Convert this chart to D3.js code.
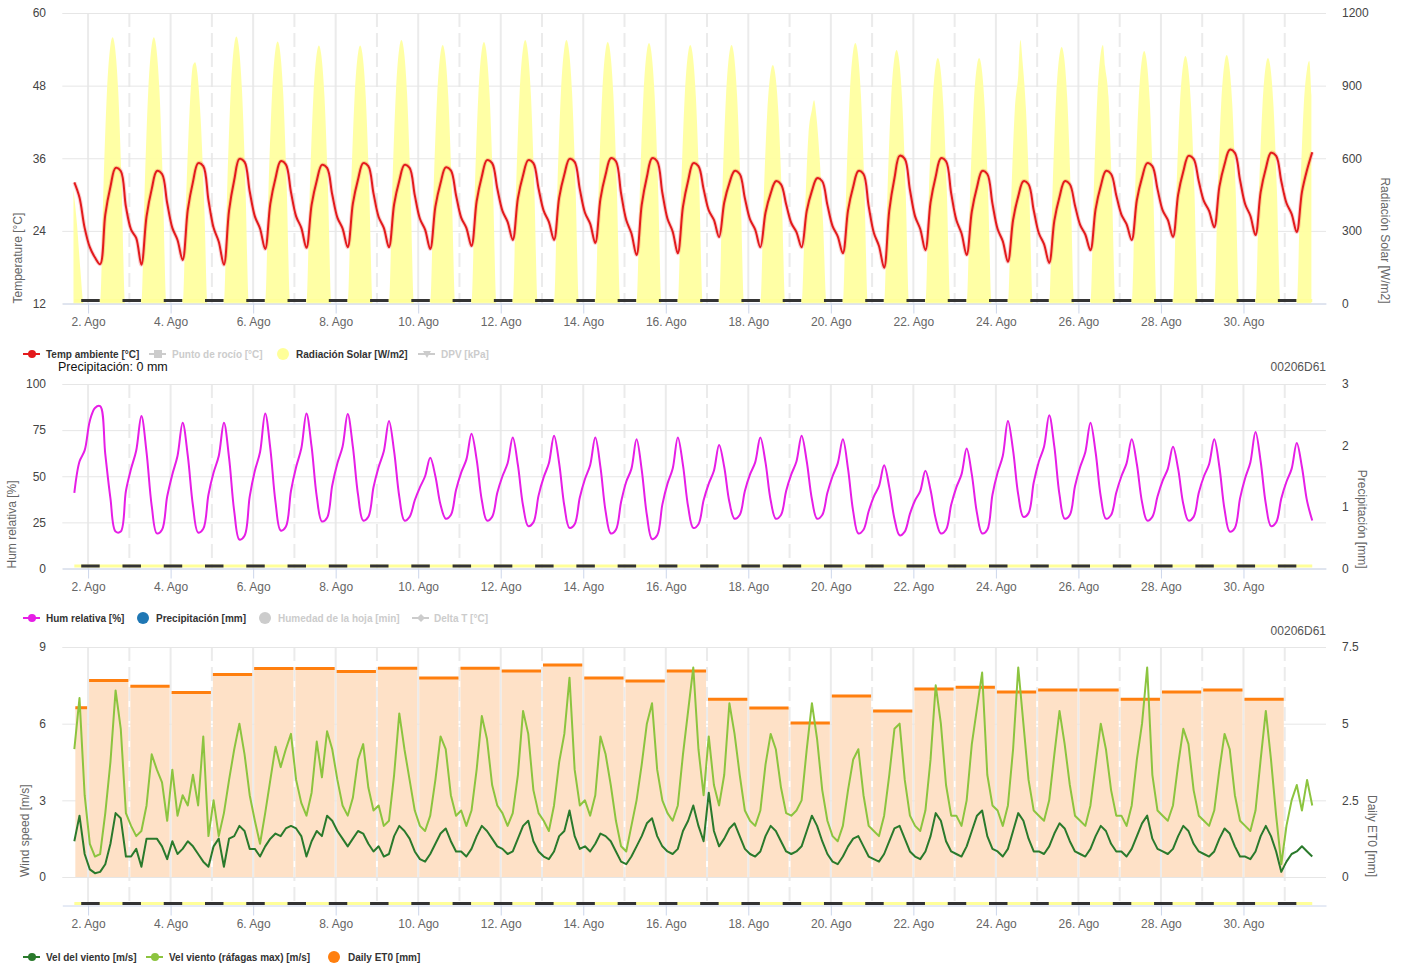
<!DOCTYPE html>
<html>
<head>
<meta charset="utf-8">
<title>Estación 00206D61 - Agosto</title>
<script src="https://cdn.jsdelivr.net/npm/d3@7"></script>
<style>
  body { margin: 0; background: #fff; }
  svg text { font-family: "Liberation Sans", Arial, sans-serif; }
</style>
</head>
<body>
<svg id="chart" width="1403" height="966"></svg>
<script>
// ---------------- datos ----------------
// series cada 3 horas desde el 1 de agosto a las 16:00 hasta el 31 a las 16:00
var inicioSerie = Date.UTC(2023, 7, 1, 16);
var pasoHoras = 3;

var tempAmbiente = [
  32.0, 29.5, 24.5,
  21.3, 19.6, 18.5, 26.7, 31.3, 34.4, 33.9, 28.0,
  24.2, 22.8, 18.4, 26.4, 30.9, 33.9, 33.4, 28.6,
  24.5, 22.5, 19.2, 27.5, 32.1, 35.2, 34.7, 29.1,
  24.5, 22.2, 18.4, 27.4, 32.4, 35.9, 35.4, 30.5,
  26.4, 24.4, 21.0, 28.5, 32.7, 35.5, 35.0, 30.4,
  26.4, 24.5, 21.2, 28.3, 32.3, 34.9, 34.4, 30.0,
  26.2, 24.4, 21.3, 28.5, 32.5, 35.2, 34.7, 30.2,
  26.3, 24.5, 21.3, 28.4, 32.3, 34.9, 34.4, 29.9,
  26.0, 24.2, 21.0, 28.0, 31.9, 34.5, 34.0, 29.9,
  26.2, 24.5, 21.5, 28.9, 33.0, 35.7, 35.2, 31.0,
  27.3, 25.5, 22.5, 29.4, 33.2, 35.7, 35.2, 31.0,
  27.3, 25.5, 22.5, 29.5, 33.3, 35.9, 35.4, 30.9,
  27.0, 25.2, 22.0, 29.3, 33.3, 36.0, 35.5, 30.2,
  25.8, 23.6, 20.0, 28.3, 32.9, 36.0, 35.5, 30.3,
  26.0, 23.9, 20.3, 28.0, 32.3, 35.2, 34.7, 30.9,
  27.4, 25.8, 23.0, 28.7, 31.9, 33.9, 33.4, 29.4,
  25.9, 24.2, 21.3, 27.0, 30.2, 32.2, 31.7, 28.4,
  25.3, 23.8, 21.3, 27.3, 30.6, 32.7, 32.2, 28.3,
  24.8, 23.1, 20.3, 27.4, 31.3, 33.9, 33.4, 28.1,
  23.7, 21.5, 17.9, 27.4, 32.7, 36.4, 35.9, 30.8,
  26.4, 24.3, 20.8, 28.7, 33.0, 36.0, 35.5, 30.2,
  25.8, 23.6, 20.0, 27.2, 31.2, 33.9, 33.4, 28.5,
  24.3, 22.3, 18.9, 25.8, 29.7, 32.2, 31.7, 27.4,
  23.6, 21.8, 18.7, 25.7, 29.6, 32.2, 31.7, 28.2,
  25.0, 23.4, 20.8, 27.6, 31.4, 33.9, 33.4, 29.9,
  26.7, 25.1, 22.5, 29.1, 32.8, 35.2, 34.7, 30.9,
  27.4, 25.8, 23.0, 30.0, 33.8, 36.4, 35.9, 32.2,
  28.9, 27.3, 24.6, 31.3, 35.0, 37.4, 36.9, 32.4,
  28.4, 26.5, 23.3, 30.4, 34.3, 36.9, 36.4, 32.2,
  28.6, 26.8, 23.8, 30.4, 34.1, 37.0
];

var humRelativa = [
  41, 58, 64,
  80, 87, 88, 62, 38, 20, 20, 42,
  54, 64, 82.6, 63, 34, 19, 21, 39,
  51, 61, 79, 61, 34, 19.5, 21.5, 40,
  52, 61, 79, 60, 31, 15.7, 17.7, 39,
  53, 63, 84, 65, 36, 20.6, 22.6, 42,
  55, 65, 84, 66, 39, 25.5, 27.5, 45,
  57, 66, 83.7, 66, 40, 26, 28, 44,
  55, 63.5, 80, 63.5, 39, 26, 28, 37,
  44, 50, 60, 50, 34.5, 27, 29, 42.5,
  52, 59, 73, 59, 37, 26, 28, 41,
  50, 57, 71, 56, 34, 23, 25, 39.5,
  49.5, 57, 72, 57, 34, 22, 24, 38.5,
  48.5, 56, 71, 55, 31, 19, 21, 36,
  47, 54, 70, 53.5, 29, 16, 18, 34.6,
  46, 54, 71, 56, 33.5, 22, 24, 37,
  46, 53, 67, 55, 36, 27, 29, 42,
  51, 57.5, 71, 57.5, 37, 27, 29, 42,
  51, 58, 72, 58, 37.5, 27, 29, 41,
  50, 57, 70, 54, 31, 19, 21, 31,
  39, 44.6, 56, 44, 27, 18, 20, 29.6,
  37, 42, 53, 42.5, 27, 19, 21, 34.5,
  44, 51, 65, 51, 30, 19, 21, 40,
  52, 61, 80, 64, 40, 28, 30, 46.6,
  58, 66, 83, 66, 40, 27, 29, 44.6,
  55, 63, 79, 63, 39, 27, 29, 41,
  50, 57, 70, 56.5, 36, 26, 28, 39,
  47.6, 54, 66, 54, 35, 26, 28, 41,
  50, 56.5, 70, 55, 32, 20, 22, 38,
  49, 57.5, 74, 58, 35, 23, 25, 38,
  47, 54, 68, 55, 36.5, 26
];

var velViento = [
  1.4, 2.4, 0.9,
  0.3, 0.15, 0.2, 0.5, 1.3, 2.5, 2.3, 0.8,
  0.8, 1.1, 0.4, 1.5, 1.5, 1.5, 1.2, 0.7,
  1.4, 0.9, 1.1, 1.4, 1.2, 0.9, 0.6, 0.4,
  1.2, 1.5, 0.4, 1.5, 1.6, 2.0, 1.8, 1.1,
  1.1, 0.8, 1.2, 1.5, 1.7, 1.6, 1.9, 2.0,
  1.9, 1.6, 0.8, 1.4, 1.8, 1.6, 2.4, 2.2,
  1.8, 1.5, 1.2, 1.5, 1.8, 1.7, 1.3, 1.0,
  1.2, 0.8, 0.9, 1.6, 2.0, 1.8, 1.5, 1.0,
  0.7, 0.6, 0.9, 1.3, 1.7, 1.9, 1.4, 1.0,
  1.0, 0.8, 1.1, 1.6, 2.0, 1.8, 1.5, 1.2,
  1.1, 0.9, 1.0, 1.5, 2.0, 2.2, 1.4, 1.0,
  0.8, 0.7, 1.0, 1.6, 1.8, 2.6, 1.6, 1.1,
  1.2, 1.0, 1.3, 1.7, 1.6, 1.4, 1.0, 0.6,
  0.5, 0.8, 1.2, 1.6, 2.1, 2.3, 1.6, 1.2,
  1.0, 0.9, 1.1, 1.8, 2.2, 2.8, 2.0, 1.4,
  3.3, 1.8, 1.2, 1.5, 1.9, 2.1, 1.6, 1.1,
  0.9, 0.8, 1.0, 1.6, 2.0, 1.8, 1.4, 1.0,
  0.9, 1.0, 1.2, 1.8, 2.4, 2.0, 1.4, 0.9,
  0.6, 0.5, 0.8, 1.2, 1.5, 1.6, 1.2, 0.8,
  0.7, 0.6, 0.9, 1.4, 1.9, 2.0, 1.5, 1.0,
  0.8, 0.7, 1.0, 1.6, 2.5, 2.2, 1.4, 1.0,
  0.9, 0.8, 1.2, 1.8, 2.4, 2.6, 1.6, 1.1,
  1.0, 0.8, 1.1, 1.8, 2.5, 2.2, 1.5, 1.0,
  1.0, 0.9, 1.2, 1.7, 2.1, 1.9, 1.4, 1.0,
  0.9, 0.8, 1.1, 1.6, 2.0, 1.8, 1.3, 1.0,
  1.0, 0.8, 1.1, 1.6, 2.1, 2.4, 1.5, 1.1,
  1.0, 0.9, 1.1, 1.6, 2.0, 1.8, 1.3, 1.0,
  0.9, 0.8, 1.0, 1.5, 1.9, 1.7, 1.2, 0.8,
  0.8, 0.7, 1.0, 1.6, 2.0, 1.6, 1.0, 0.2,
  0.6, 0.9, 1.0, 1.2, 1.0, 0.8
];

var velRafagas = [
  5.0, 7.0, 3.2,
  1.3, 0.8, 0.9, 2.5, 4.5, 7.3, 5.8, 2.5,
  2.0, 1.6, 1.8, 2.8, 4.8, 4.2, 3.7, 2.2,
  4.2, 2.4, 3.2, 2.8, 4.0, 2.8, 5.5, 1.6,
  3.0, 1.6, 2.5, 3.8, 5.0, 6.0, 4.8, 3.2,
  2.2, 1.3, 2.5, 3.8, 5.1, 4.3, 5.0, 5.6,
  3.8, 2.9, 2.4, 3.3, 5.3, 3.9, 5.7, 5.0,
  3.8, 2.8, 2.4, 3.1, 4.6, 5.2, 3.5, 2.6,
  2.8, 2.0, 2.2, 4.0, 6.4, 5.0, 3.8, 2.6,
  2.0, 1.8, 2.4, 3.8, 5.5, 5.0, 3.2, 2.4,
  2.6, 2.0, 2.6, 4.2, 6.3, 5.4, 3.6, 2.8,
  2.5, 2.0, 2.5, 4.0, 6.5, 5.6, 3.4, 2.5,
  2.2, 1.8, 2.8, 4.5, 5.6, 7.8, 4.2, 2.8,
  3.0, 2.4, 3.2, 5.5, 4.8, 3.6, 2.2, 1.2,
  1.0, 2.0, 3.0, 4.4, 6.0, 6.8, 4.2, 3.0,
  2.5, 2.2, 2.8, 4.8, 6.5, 8.2, 5.0, 3.2,
  5.5, 3.6, 2.8, 4.0, 6.8, 5.6, 4.0, 2.6,
  2.2, 2.0, 2.6, 4.4, 5.6, 5.0, 3.5, 2.5,
  2.4, 2.6, 3.0, 5.0, 6.8, 5.4, 3.4, 2.2,
  1.6, 1.4, 2.0, 3.4, 4.6, 5.0, 3.2, 2.0,
  1.8, 1.6, 2.4, 4.0, 5.8, 6.0, 3.8, 2.4,
  2.0, 1.8, 2.6, 4.6, 7.5, 6.0, 3.6, 2.4,
  2.4, 2.0, 3.0, 5.2, 6.6, 8.0, 4.0, 2.8,
  2.6, 2.0, 2.8, 5.0, 8.2, 6.0, 3.8, 2.6,
  2.4, 2.2, 3.0, 4.8, 6.5, 5.2, 3.6, 2.4,
  2.2, 2.0, 2.8, 4.4, 6.0, 5.0, 3.4, 2.4,
  2.4, 2.0, 2.8, 4.6, 6.0, 8.2, 4.0, 2.6,
  2.4, 2.2, 2.8, 4.4, 5.8, 5.2, 3.4, 2.4,
  2.2, 2.0, 2.6, 4.2, 5.6, 5.0, 3.2, 2.2,
  2.0, 1.8, 2.6, 4.6, 6.5, 4.6, 2.4, 0.5,
  2.0, 3.0, 3.6, 2.6, 3.8, 2.8
];

// radiación solar por día (1..31) a estas horas locales
var horasSolar = [7, 9, 11, 13, 14.25, 15.5, 17.5, 19.5, 21.5];
var radSolar = [
  [null, null, null, null, null, 470, 330, 140, 0],
  [0, 495, 880, 1067, 1100, 1067, 880, 495, 0],
  [0, 495, 880, 1067, 1100, 1067, 880, 495, 0],
  [0, 430, 790, 985, 997, 955, 760, 420, 0],
  [0, 496, 882, 1070, 1103, 1070, 882, 496, 0],
  [0, 487, 866, 1050, 1082, 1050, 866, 487, 0],
  [0, 480, 853, 1034, 1066, 1034, 853, 480, 0],
  [0, 480, 853, 1034, 1066, 1034, 853, 480, 0],
  [0, 490, 870, 1055, 1088, 1055, 870, 490, 0],
  [0, 481, 854, 1036, 1068, 1036, 854, 481, 0],
  [0, 486, 864, 1048, 1080, 1048, 864, 486, 0],
  [0, 490, 870, 1055, 1088, 1055, 870, 490, 0],
  [0, 490, 870, 1055, 1088, 1055, 870, 490, 0],
  [0, 486, 864, 1048, 1080, 1048, 864, 486, 0],
  [0, 484, 861, 1044, 1076, 1044, 861, 484, 0],
  [0, 481, 854, 1036, 1068, 1036, 854, 481, 0],
  [0, 481, 854, 1036, 1068, 1036, 854, 481, 0],
  [0, 443, 788, 955, 985, 955, 788, 443, 0],
  [0, 380, 700, 800, 840, 780, 600, 330, 0],
  [0, 484, 861, 1044, 1076, 1044, 861, 484, 0],
  [0, 471, 838, 1016, 1047, 1016, 838, 471, 0],
  [0, 456, 811, 984, 1014, 984, 811, 456, 0],
  [0, 456, 811, 984, 1014, 984, 811, 456, 0],
  [0, 450, 800, 944, 1088, 1000, 800, 440, 0],
  [0, 477, 848, 1028, 1060, 1028, 848, 477, 0],
  [0, 481, 854, 1036, 1068, 980, 854, 481, 0],
  [0, 469, 834, 1012, 1043, 1012, 834, 469, 0],
  [0, 460, 818, 991, 1022, 991, 818, 460, 0],
  [0, 462, 821, 995, 1026, 995, 821, 462, 0],
  [0, 456, 811, 984, 1014, 984, 811, 456, 0],
  [0, 450, 810, 970, 1002, 860, null, null, null]
];

// ET0 diaria (1..30 de agosto)
var et0Diaria = [5.52, 6.41, 6.22, 6.02, 6.60, 6.80, 6.80, 6.70, 6.81, 6.49,
                 6.81, 6.72, 6.91, 6.49, 6.39, 6.72, 5.80, 5.51, 5.02, 5.90,
                 5.41, 6.13, 6.19, 6.03, 6.10, 6.10, 5.80, 6.03, 6.10, 5.80];

// horas de la franja nocturna (barra negra)
var nocheDesde = 20, nocheHasta = 6.75;

var diasEtiqueta = d3.range(2, 31, 2);
var diasMenores = d3.range(3, 32, 2);

// ---------------- escalas ----------------
var HORA = 3600e3;
function fecha(dia, hora) { return new Date(Date.UTC(2023, 7, dia) + (hora || 0) * HORA); }
function serie(vals) {
  return vals.map(function(v, i) { return {t: new Date(inicioSerie + i * pasoHoras * HORA), v: v}; });
}
var finSerie = new Date(inicioSerie + (tempAmbiente.length - 1) * pasoHoras * HORA);

var X0 = 62.3, X1 = 1326;
var x = d3.scaleUtc()
  .domain([new Date(Date.UTC(2023, 7, 1, 9)), new Date(Date.UTC(2023, 8, 1))])
  .range([X0, X1]);

var svg = d3.select('#chart');
var fmtFecha = d3.utcFormat('%-d. Ago');
var fmtNum = function(d) { return String(d); };

// cada panel: escala izquierda y derecha, rejilla, eje x y barra día/noche
function panel(cfg) {
  var yL = d3.scaleLinear().domain(cfg.izq).range([cfg.abajo, cfg.arriba]);
  var yR = d3.scaleLinear().domain(cfg.der).range([cfg.abajo, cfg.arriba]);
  var g = svg.append('g');

  // rejilla vertical: sólida en días pares, discontinua en impares
  g.append('g').selectAll('line').data(diasEtiqueta).enter().append('line')
    .attr('x1', d => x(fecha(d))).attr('x2', d => x(fecha(d)))
    .attr('y1', cfg.arriba).attr('y2', cfg.ejeY)
    .attr('stroke', '#ebebeb').attr('stroke-width', 2);
  g.append('g').selectAll('line').data(diasMenores).enter().append('line')
    .attr('x1', d => x(fecha(d))).attr('x2', d => x(fecha(d)))
    .attr('y1', cfg.arriba).attr('y2', cfg.ejeY)
    .attr('stroke', '#ebebeb').attr('stroke-width', 2).attr('stroke-dasharray', '14,6');

  // rejilla horizontal
  g.append('g').attr('transform', 'translate(' + X0 + ',0)')
    .call(d3.axisLeft(yL).tickValues(cfg.ticksIzq).tickSize(-(X1 - X0)).tickFormat(''))
    .call(s => { s.select('.domain').remove(); s.selectAll('line').attr('stroke', '#e6e6e6'); });

  // etiquetas y
  g.append('g').attr('transform', 'translate(46,0)')
    .call(d3.axisLeft(yL).tickValues(cfg.ticksIzq).tickFormat(fmtNum).tickSize(0).tickPadding(0))
    .call(s => { s.select('.domain').remove();
      s.selectAll('text').attr('font-size', 12).attr('fill', '#444').attr('font-family', '"Liberation Sans", Arial'); });
  g.append('g').attr('transform', 'translate(1342,0)')
    .call(d3.axisRight(yR).tickValues(cfg.ticksDer).tickFormat(fmtNum).tickSize(0).tickPadding(0))
    .call(s => { s.select('.domain').remove();
      s.selectAll('text').attr('font-size', 12).attr('fill', '#444').attr('font-family', '"Liberation Sans", Arial'); });

  // títulos de ejes
  g.append('text').attr('transform', 'translate(' + cfg.tituloIzq[1] + ',' + cfg.abajo + ') rotate(-90)')
    .attr('dy', '0.35em').attr('font-size', 12).attr('fill', '#666').text(cfg.tituloIzq[0]);
  g.append('text').attr('transform', 'translate(' + cfg.tituloDer[1] + ',' + cfg.abajo + ') rotate(90)')
    .attr('dy', '0.35em').attr('text-anchor', 'end').attr('font-size', 12).attr('fill', '#666').text(cfg.tituloDer[0]);

  cfg.yL = yL; cfg.yR = yR; cfg.g = g;
  return cfg;
}

function ejeX(cfg) {
  var g = svg.append('g').attr('transform', 'translate(0,' + cfg.ejeY + ')')
    .call(d3.axisBottom(x).tickValues(diasEtiqueta.map(d => fecha(d))).tickFormat(fmtFecha)
      .tickSize(10).tickSizeOuter(0).tickPadding(4));
  g.select('.domain').attr('stroke', '#ccd6eb');
  g.selectAll('.tick line').attr('stroke', '#ccd6eb');
  g.selectAll('text').attr('font-size', 12).attr('fill', '#666').attr('font-family', '"Liberation Sans", Arial');

  // barra día / noche
  svg.append('line').attr('x1', x(new Date(inicioSerie))).attr('x2', x(finSerie))
    .attr('y1', cfg.barraY).attr('y2', cfg.barraY)
    .attr('stroke', '#ffff99').attr('stroke-width', 3);
  var noches = d3.range(1, 31).map(d => [fecha(d, nocheDesde), fecha(d + 1, nocheHasta)]);
  svg.append('g').selectAll('line').data(noches).enter().append('line')
    .attr('x1', d => x(d[0])).attr('x2', d => x(d[1]))
    .attr('y1', cfg.barraY).attr('y2', cfg.barraY)
    .attr('stroke', '#333').attr('stroke-width', 3);
}

// ---------------- panel 1: temperatura + radiación ----------------
var p1 = panel({arriba: 13, abajo: 303.5, ejeY: 303.5, barraY: 300.5,
  izq: [12, 60], ticksIzq: [12, 24, 36, 48, 60], der: [0, 1200], ticksDer: [0, 300, 600, 900, 1200],
  tituloIzq: ['Temperature [°C]', 18], tituloDer: ['Radiación Solar [W/m2]', 1385]});

var puntosSolar = [];
radSolar.forEach(function(dia, i) {
  dia.forEach(function(v, k) { puntosSolar.push({t: fecha(i + 1, horasSolar[k]), v: v}); });
});
puntosSolar = puntosSolar.filter(d => d.v !== null);
p1.g.append('path').datum(puntosSolar)
  .attr('fill', '#ffffa0').attr('fill-opacity', 0.95)
  .attr('d', d3.area().curve(d3.curveMonotoneX).x(d => x(d.t)).y0(p1.yR(0)).y1(d => p1.yR(d.v)));

ejeX(p1);

var lineaTemp = d3.line().curve(d3.curveCatmullRom.alpha(0.5)).x(d => x(d.t)).y(d => p1.yL(d.v));
p1.g.append('path').datum(serie(tempAmbiente)).attr('fill', 'none')
  .attr('stroke', '#e31a1c').attr('stroke-opacity', 0.2).attr('stroke-width', 4).attr('d', lineaTemp);
p1.g.append('path').datum(serie(tempAmbiente)).attr('fill', 'none')
  .attr('stroke', '#e31a1c').attr('stroke-width', 2).attr('d', lineaTemp);

// ---------------- panel 2: humedad ----------------
var p2 = panel({arriba: 384, abajo: 568.5, ejeY: 568.5, barraY: 566,
  izq: [0, 100], ticksIzq: [0, 25, 50, 75, 100], der: [0, 3], ticksDer: [0, 1, 2, 3],
  tituloIzq: ['Hum relativa [%]', 12], tituloDer: ['Precipitación [mm]', 1362]});
ejeX(p2);
p2.g.append('path').datum(serie(humRelativa)).attr('fill', 'none')
  .attr('stroke', '#e61ee6').attr('stroke-width', 2)
  .attr('d', d3.line().curve(d3.curveCatmullRom.alpha(0.5)).x(d => x(d.t)).y(d => p2.yL(d.v)));

// ---------------- panel 3: viento + ET0 ----------------
var p3 = panel({arriba: 647, abajo: 877, ejeY: 905.5, barraY: 903.5,
  izq: [0, 9], ticksIzq: [0, 3, 6, 9], der: [0, 7.5], ticksDer: [0, 2.5, 5, 7.5],
  tituloIzq: ['Wind speed [m/s]', 25], tituloDer: ['Daily ET0 [mm]', 1372]});

var barrasEt0 = et0Diaria.map(function(v, i) {
  var desde = i === 0 ? new Date(inicioSerie) : fecha(i + 1);
  return {desde: desde, hasta: fecha(i + 2), v: v};
});
var gEt0 = p3.g.append('g');
gEt0.selectAll('rect').data(barrasEt0).enter().append('rect')
  .attr('x', d => x(d.desde) + 1).attr('width', d => x(d.hasta) - x(d.desde) - 2)
  .attr('y', d => p3.yR(d.v)).attr('height', d => p3.yR(0) - p3.yR(d.v))
  .attr('fill', '#fee1c7');
gEt0.selectAll('line').data(barrasEt0).enter().append('line')
  .attr('x1', d => x(d.desde) + 1).attr('x2', d => x(d.hasta) - 1)
  .attr('y1', d => p3.yR(d.v)).attr('y2', d => p3.yR(d.v))
  .attr('stroke', '#ff7f0e').attr('stroke-width', 3);

ejeX(p3);

var lineaViento = d3.line().x(d => x(d.t)).y(d => p3.yL(d.v));
p3.g.append('path').datum(serie(velRafagas)).attr('fill', 'none')
  .attr('stroke', '#8cc43f').attr('stroke-width', 2).attr('stroke-linejoin', 'round').attr('d', lineaViento);
p3.g.append('path').datum(serie(velViento)).attr('fill', 'none')
  .attr('stroke', '#2a7a2c').attr('stroke-width', 2).attr('stroke-linejoin', 'round').attr('d', lineaViento);

// ---------------- leyendas ----------------
function leyenda(y, items) {
  var g = svg.append('g').attr('transform', 'translate(0,' + y + ')');
  items.forEach(function(it) {
    var c = it.activo ? it.color : '#cccccc';
    if (it.tipo === 'circulo') {
      g.append('circle').attr('cx', it.x).attr('cy', 0).attr('r', 6).attr('fill', c);
    } else {
      g.append('line').attr('x1', it.x - 9).attr('x2', it.x + 8).attr('y1', 0).attr('y2', 0)
        .attr('stroke', c).attr('stroke-width', 2);
      if (it.marca === 'circulo') g.append('circle').attr('cx', it.x).attr('cy', 0).attr('r', 4).attr('fill', c);
      if (it.marca === 'cuadrado') g.append('rect').attr('x', it.x - 4).attr('y', -4).attr('width', 8).attr('height', 8).attr('fill', c);
      if (it.marca === 'triangulo') g.append('path').attr('d', 'M' + (it.x - 4) + ',-3L' + (it.x + 4) + ',-3L' + it.x + ',4Z').attr('fill', c);
      if (it.marca === 'rombo') g.append('path').attr('d', 'M' + it.x + ',-4L' + (it.x + 4) + ',0L' + it.x + ',4L' + (it.x - 4) + ',0Z').attr('fill', c);
    }
    g.append('text').attr('x', it.tx).attr('y', 0).attr('dy', '0.35em')
      .attr('font-size', 10).attr('font-weight', 'bold')
      .attr('fill', it.activo ? '#333' : '#cccccc').text(it.texto);
  });
}

leyenda(354, [
  {x: 32, tx: 46, color: '#e31a1c', marca: 'circulo', activo: true, texto: 'Temp ambiente [°C]'},
  {x: 158, tx: 172, color: '#999', marca: 'cuadrado', activo: false, texto: 'Punto de rocío [°C]'},
  {x: 283, tx: 296, color: '#ffff99', tipo: 'circulo', activo: true, texto: 'Radiación Solar [W/m2]'},
  {x: 427, tx: 441, color: '#999', marca: 'triangulo', activo: false, texto: 'DPV [kPa]'}
]);
leyenda(618, [
  {x: 32, tx: 46, color: '#e61ee6', marca: 'circulo', activo: true, texto: 'Hum relativa [%]'},
  {x: 143, tx: 156, color: '#1f77b4', tipo: 'circulo', activo: true, texto: 'Precipitación [mm]'},
  {x: 265, tx: 278, color: '#999', tipo: 'circulo', activo: false, texto: 'Humedad de la hoja [min]'},
  {x: 421, tx: 434, color: '#999', marca: 'rombo', activo: false, texto: 'Delta T [°C]'}
]);
leyenda(957, [
  {x: 32, tx: 46, color: '#2a7a2c', marca: 'circulo', activo: true, texto: 'Vel del viento [m/s]'},
  {x: 155, tx: 169, color: '#8cc43f', marca: 'circulo', activo: true, texto: 'Vel viento (ráfagas max) [m/s]'},
  {x: 334, tx: 348, color: '#ff7f0e', tipo: 'circulo', activo: true, texto: 'Daily ET0 [mm]'}
]);

// textos sueltos
svg.append('text').attr('x', 58).attr('y', 371).attr('font-size', 12.5).attr('fill', '#111')
  .text('Precipitación: 0 mm');
svg.append('text').attr('x', 1326).attr('y', 371).attr('text-anchor', 'end').attr('font-size', 12).attr('fill', '#555')
  .text('00206D61');
svg.append('text').attr('x', 1326).attr('y', 635).attr('text-anchor', 'end').attr('font-size', 12).attr('fill', '#555')
  .text('00206D61');
</script>
</body>
</html>
